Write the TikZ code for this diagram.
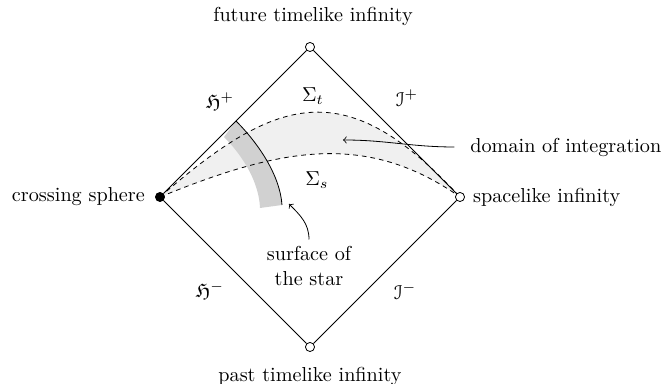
\documentclass[tikz,border=0pt]{standalone}
\usepackage{amsmath,amssymb}
\usepackage[mathscr]{eucal}
\usetikzlibrary{positioning}

\begin{document}
\begin{tikzpicture}[x=0.0174cm,y=-0.0174cm,
    infty/.style={circle,draw,fill=white,inner sep=0pt,minimum size=4.5pt},
    slice/.style={dashed,dash pattern=on 2.3pt off 2pt},
    domainfill/.style={fill=black!6},
    starfill/.style={fill=black!18},
    >=to]
  \useasboundingbox (0,0) rectangle (663,384);
  % regions
  \fill[domainfill] (160,197) .. controls (280,92) and (348,76) .. (460,197)
    .. controls (366,131) and (280,148) .. (160,197) -- cycle;
  \fill[starfill] (224,137) -- (236,121) .. controls (258,143) and (280,175) .. (282,205)
    -- (260,208) .. controls (259,183) and (244,157) .. (224,137) -- cycle;
  \draw[slice] (160,197) .. controls (280,92) and (348,76) .. (460,197);
  \draw[slice] (160,197) .. controls (280,148) and (366,131) .. (460,197);
  \draw (236,121) .. controls (258,143) and (280,175) .. (282,205);
  % Penrose diagram
  \node[infty] (top) at (310,47) {};
  \node[infty] (bot) at (310,347) {};
  \node[infty] (right) at (460,197) {};
  \node[infty,fill=black] (left) at (160,197) {};
  \draw (left) -- (top) -- (right) -- (bot) -- (left);
  % labels
  \node[anchor=base] (future) at (313,22) {future timelike infinity};
  \node[anchor=base] (past) at (310,382) {past timelike infinity};
  \node[anchor=east] (cross) at (152,197) {crossing sphere};
  \node[anchor=west] (space) at (466,197) {spacelike infinity};
  \node at (220,101) {$\mathfrak{H}^+$};
  \node at (210,290) {$\mathfrak{H}^-$};
  \node at (407,98) {$\mathscr{I}^+$};
  \node at (405,291) {$\mathscr{I}^-$};
  \node at (313,96) {$\Sigma_t$};
  \node at (317,180) {$\Sigma_s$};
  \node[anchor=west,inner xsep=0pt] (dom) at (470,147) {domain of integration};
  \node[align=center] (star) at (309,266) {surface of\\the star};
  \coordinate (domtip) at (343,140);
  \coordinate (startip) at (289,204);
  \draw[->] ([xshift=-0.27cm]dom.west) to[out=180,in=0] (domtip);
  \draw[->] (star.north) to[out=90,in=-45] (startip);
\end{tikzpicture}
\end{document}
